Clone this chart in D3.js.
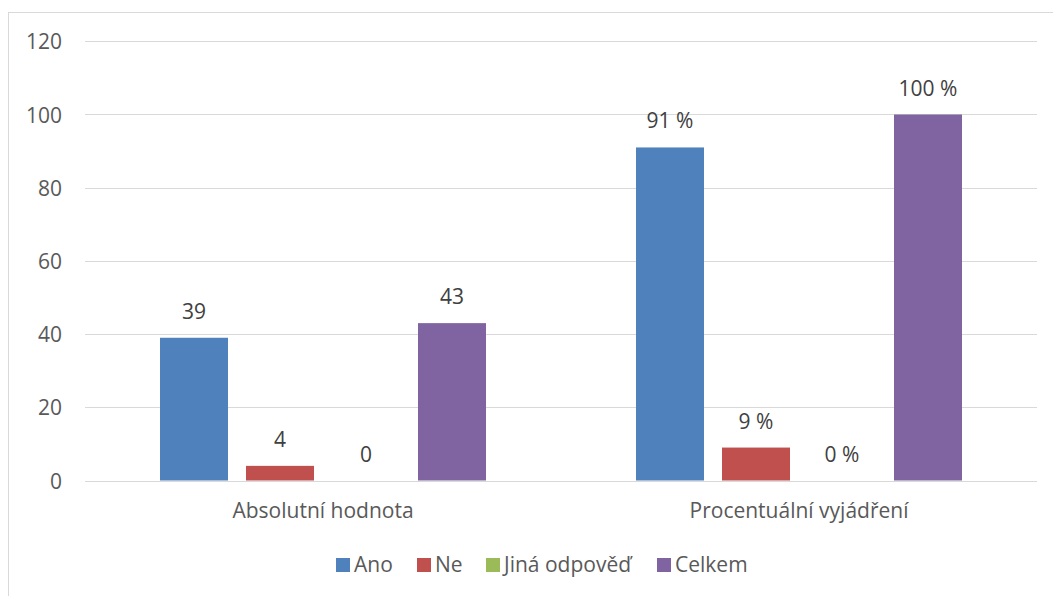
<!DOCTYPE html>
<html>
<head>
<meta charset="utf-8">
<script src="https://cdn.jsdelivr.net/npm/d3@7"></script>
<style>
  html, body { margin: 0; padding: 0; background: #fff; }
  svg { display: block; font-family: "Open Sans", Lato, sans-serif; }
</style>
</head>
<body>
<svg id="chart" width="1053" height="596"></svg>
<script>
// Survey answers, absolute counts and percentages
const categories = ["Absolutní hodnota", "Procentuální vyjádření"];
const seriesNames = ["Ano", "Ne", "Jiná odpověď", "Celkem"];
const seriesColors = ["#4f81bd", "#c0504d", "#9bbb59", "#8064a2"];
const ano = [39, 91];
const ne = [4, 9];
const jina = [0, 0];
const celkem = [43, 100];
const labelSuffix = ["", " %"];
const yTicks = [0, 20, 40, 60, 80, 100, 120];

const seriesValues = [ano, ne, jina, celkem];
const FONT = "'Open Sans', Lato, sans-serif";
const FS = "21px";

const svg = d3.select("#chart");
const W = 1053, H = 596;

// chart frame
svg.append("rect")
  .attr("x", 8.5).attr("y", 12.5)
  .attr("width", W + 10).attr("height", H + 10)
  .attr("fill", "#fff").attr("stroke", "#d9d9d9").attr("stroke-width", 1);

const plot = { left: 85, right: 1037, top: 41.3, bottom: 480.5 };

const y = d3.scaleLinear().domain([0, 120]).range([plot.bottom, plot.top]);
const x0 = d3.scaleBand().domain(categories).range([plot.left, plot.right]).padding(0);
const groupW = 326;
const x1 = d3.scaleBand().domain(seriesNames)
  .range([(x0.bandwidth() - groupW) / 2, (x0.bandwidth() + groupW) / 2])
  .paddingInner(0.2093).paddingOuter(0);

// gridlines
svg.append("g").selectAll("line").data(yTicks).join("line")
  .attr("x1", plot.left).attr("x2", plot.right)
  .attr("y1", d => Math.round(y(d)) + 0.5).attr("y2", d => Math.round(y(d)) + 0.5)
  .attr("stroke", "#d9d9d9").attr("stroke-width", 1);

// y axis labels
const yAxis = d3.axisLeft(y).tickValues(yTicks).tickSize(0).tickPadding(0);
const gy = svg.append("g").attr("transform", "translate(62,0)").call(yAxis);
gy.select(".domain").remove();
gy.selectAll("text")
  .attr("dy", "0.36em")
  .attr("fill", "#595959").attr("font-size", FS)
  .attr("font-family", FONT);

// x axis labels
const xAxis = d3.axisBottom(x0).tickSize(0).tickPadding(0);
const gx = svg.append("g").attr("transform", "translate(0,503)").call(xAxis);
gx.select(".domain").remove();
gx.selectAll("text")
  .attr("fill", "#595959").attr("font-size", FS)
  .attr("font-family", FONT);

// bars
const rows = [];
categories.forEach((c, ci) => {
  seriesNames.forEach((s, si) => {
    rows.push({ cat: c, ci, series: s, si, value: seriesValues[si][ci] });
  });
});

const bars = svg.append("g");
bars.selectAll("rect").data(rows).join("rect")
  .attr("x", d => x0(d.cat) + x1(d.series))
  .attr("width", x1.bandwidth())
  .attr("y", d => y(d.value))
  .attr("height", d => y(0) - y(d.value))
  .attr("fill", d => seriesColors[d.si]);

// value labels
svg.append("g").selectAll("text").data(rows).join("text")
  .attr("x", d => x0(d.cat) + x1(d.series) + x1.bandwidth() / 2)
  .attr("y", d => y(d.value) - 19)
  .attr("text-anchor", "middle")
  .attr("fill", "#404040").attr("font-size", FS)
  .text(d => d.value + labelSuffix[d.ci]);

// legend
const legendItems = [
  { name: seriesNames[0], x: 336 },
  { name: seriesNames[1], x: 417 },
  { name: seriesNames[2], x: 486 },
  { name: seriesNames[3], x: 657 }
];
const lg = svg.append("g");
legendItems.forEach((it, i) => {
  lg.append("rect").attr("x", it.x).attr("y", 558).attr("width", 14).attr("height", 14)
    .attr("fill", seriesColors[i]);
  lg.append("text").attr("x", it.x + 18).attr("y", 572)
    .attr("fill", "#595959").attr("font-size", FS).text(it.name);
});
</script>
</body>
</html>
